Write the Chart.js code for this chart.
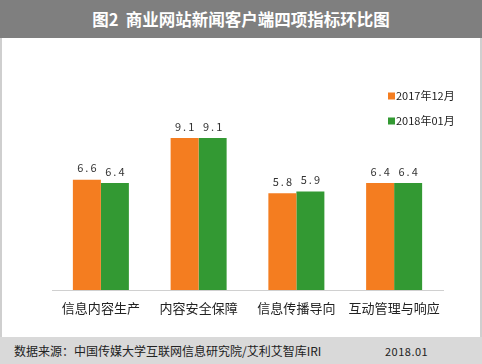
<!DOCTYPE html>
<html>
<head>
<meta charset="utf-8">
<script src="https://cdn.jsdelivr.net/npm/chart.js@4/dist/chart.umd.min.js"></script>
<style>
  html, body { margin: 0; padding: 0; background: #fff; }
  #wrap { position: relative; width: 482px; height: 364px; overflow: hidden; }
  #frame { position: absolute; left: 0; top: 0; width: 478px; height: 364px; border-left: 2px solid #cfcfcf; border-right: 2px solid #cfcfcf; }
  #title { position: absolute; left: 0; top: 0; width: 482px; height: 38px; background: #7f7f7f; color: #fff;
    font: bold 16.5px "Noto Sans CJK SC", sans-serif; text-align: center; line-height: 38px; }
  #foot { position: absolute; left: 0; top: 337px; width: 482px; height: 27px; background: #d9d9d9; color: #222;
    font: 12px "Noto Sans CJK SC", sans-serif; line-height: 28px; }
  #foot .src { position: absolute; left: 14px; top: 0; }
  #foot .date { position: absolute; left: 385px; top: 0; font-size: 11px; letter-spacing: 0.5px; }
  canvas { position: absolute; left: 0; top: 0; }
</style>
</head>
<body>
<div id="wrap">
  <div id="frame"></div>
  <canvas id="grafico" width="482" height="364"></canvas>
  <div id="title">图2&nbsp; 商业网站新闻客户端四项指标环比图</div>
  <div id="foot"><span class="src">数据来源：中国传媒大学互联网信息研究院/艾利艾智库IRI</span><span class="date">2018.01</span></div>
</div>
<script>
const categories = ['信息内容生产', '内容安全保障', '信息传播导向', '互动管理与响应'];
const seriesNames = ['2017年12月', '2018年01月'];
const dec2017 = [6.6, 9.1, 5.8, 6.4];
const jan2018 = [6.4, 9.1, 5.9, 6.4];
const colors = ['#f47d20', '#339933'];

const valueLabels = {
    id: 'valueLabels',
    afterDatasetsDraw(chart) {
        const ctx = chart.ctx;
        ctx.save();
        ctx.font = '11px "Noto Sans CJK SC", sans-serif';
        ctx.fillStyle = '#333';
        ctx.textAlign = 'center';
        ctx.textBaseline = 'bottom';
        if ('letterSpacing' in ctx) ctx.letterSpacing = '2px';
        chart.data.datasets.forEach(function(ds, i) {
            chart.getDatasetMeta(i).data.forEach(function(bar, j) {
                ctx.fillText(ds.data[j].toFixed(1), bar.x + 1, bar.y - 6);
            });
        });
        ctx.restore();
    }
};

const boxLegend = {
    id: 'boxLegend',
    afterDraw(chart) {
        const ctx = chart.ctx;
        ctx.save();
        ctx.font = '11px "Noto Sans CJK SC", sans-serif';
        ctx.textBaseline = 'middle';
        chart.data.datasets.forEach(function(ds, i) {
            const y = 96 + i * 25;
            ctx.fillStyle = ds.backgroundColor;
            ctx.fillRect(388, y - 3.5, 7, 7);
            ctx.fillStyle = '#222';
            ctx.fillText(ds.label, 396, y);
        });
        ctx.restore();
    }
};

const ctx = document.getElementById('grafico').getContext('2d');
new Chart(ctx, {
    type: 'bar',
    data: {
        labels: categories,
        datasets: [{
            label: seriesNames[0],
            data: dec2017,
            backgroundColor: colors[0]
        }, {
            label: seriesNames[1],
            data: jan2018,
            backgroundColor: colors[1]
        }]
    },
    options: {
        responsive: false,
        animation: false,
        events: [],
        layout: { padding: { left: 52, right: 39, top: 123, bottom: 0 } },
        datasets: { bar: { barPercentage: 1, categoryPercentage: 0.573 } },
        plugins: { legend: { display: false }, tooltip: { enabled: false } },
        scales: {
            x: {
                grid: { display: false, drawTicks: false },
                border: { display: true, color: '#d0d0d0', width: 1 },
                ticks: { color: '#222', padding: 10, font: { size: 13, family: '"Noto Sans CJK SC", sans-serif' } },
                afterFit(scale) { scale.height = 74; }
            },
            y: {
                display: false,
                min: 0,
                max: 10
            }
        }
    },
    plugins: [valueLabels, boxLegend]
});
</script>
</body>
</html>
